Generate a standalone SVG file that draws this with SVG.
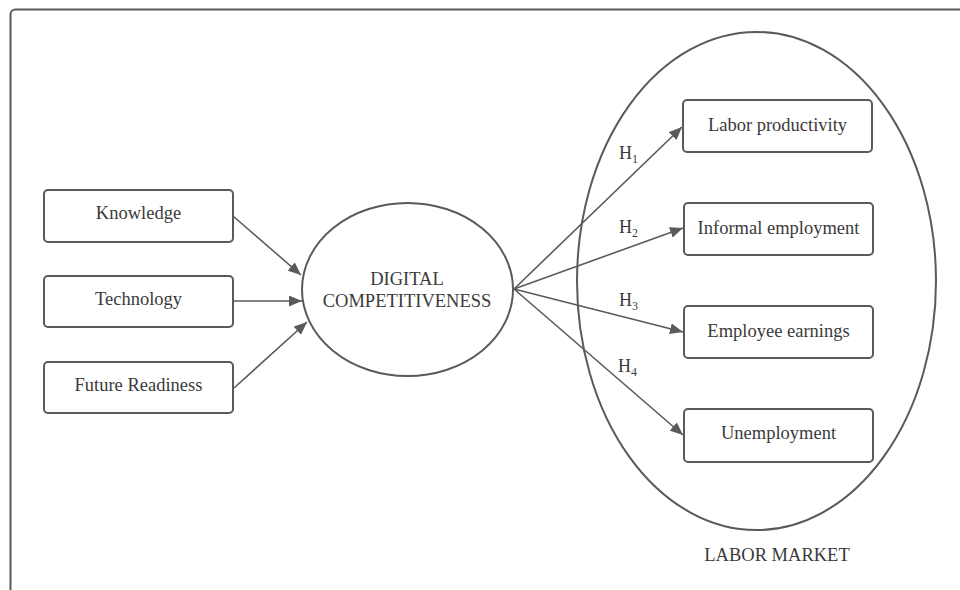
<svg xmlns="http://www.w3.org/2000/svg" width="960" height="590" viewBox="0 0 960 590">
  <style>
    .box { fill: #ffffff; stroke: #5a5a5a; stroke-width: 2; }
    .ell { fill: none; stroke: #5a5a5a; stroke-width: 2; }
    .lbl { font-family: "Liberation Serif", "Times New Roman", serif; font-size: 18.5px; fill: #3a3a3a; text-anchor: middle; }
    .hyp { font-family: "Liberation Serif", "Times New Roman", serif; font-size: 18px; fill: #3a3a3a; }
    .sub { font-size: 12px; }
    .conn { stroke: #5a5a5a; stroke-width: 1.6; fill: none; marker-end: url(#arrow); }
  </style>
  <defs>
    <marker id="arrow" markerUnits="userSpaceOnUse" markerWidth="13" markerHeight="11" refX="13" refY="5.5" orient="auto">
      <path d="M0,0 L13,5.5 L0,11 Z" fill="#5a5a5a"/>
    </marker>
  </defs>
  <rect width="960" height="590" fill="#ffffff"/>
  <rect x="10.5" y="9.5" width="1000" height="700" rx="5" fill="none" stroke="#5a5a5a" stroke-width="2"/>

  <g id="labor-market">
    <ellipse class="ell" cx="756.5" cy="281" rx="179.5" ry="249"/>
    <text class="lbl" x="777" y="561">LABOR MARKET</text>
  </g>

  <g id="connectors">
    <line class="conn" x1="233" y1="216" x2="301" y2="275"/>
    <line class="conn" x1="233" y1="301" x2="302" y2="301"/>
    <line class="conn" x1="234" y1="388" x2="307" y2="322"/>
    <line class="conn" x1="514" y1="289" x2="682" y2="127"/>
    <line class="conn" x1="514" y1="289" x2="683" y2="228"/>
    <line class="conn" x1="514" y1="289" x2="683" y2="332"/>
    <line class="conn" x1="514" y1="289" x2="683" y2="435"/>
    <text class="hyp" x="619" y="159">H<tspan class="sub" dy="4">1</tspan></text>
    <text class="hyp" x="619" y="233">H<tspan class="sub" dy="4">2</tspan></text>
    <text class="hyp" x="619" y="306">H<tspan class="sub" dy="4">3</tspan></text>
    <text class="hyp" x="618" y="372">H<tspan class="sub" dy="4">4</tspan></text>
  </g>

  <g id="knowledge">
    <rect class="box" x="44" y="190" width="189" height="52" rx="4"/>
    <text class="lbl" x="138.5" y="219">Knowledge</text>
  </g>
  <g id="technology">
    <rect class="box" x="44" y="276" width="189" height="51" rx="4"/>
    <text class="lbl" x="138.5" y="305">Technology</text>
  </g>
  <g id="future-readiness">
    <rect class="box" x="44" y="362" width="189" height="51" rx="4"/>
    <text class="lbl" x="138.5" y="391">Future Readiness</text>
  </g>

  <g id="digital-competitiveness">
    <ellipse class="ell" cx="407.5" cy="289.5" rx="105.5" ry="86.5" fill="#ffffff"/>
    <text class="lbl" x="407" y="285">DIGITAL</text>
    <text class="lbl" x="407" y="307">COMPETITIVENESS</text>
  </g>

  <g id="labor-productivity">
    <rect class="box" x="683" y="100" width="189" height="52" rx="4"/>
    <text class="lbl" x="777.5" y="131">Labor productivity</text>
  </g>
  <g id="informal-employment">
    <rect class="box" x="684" y="203" width="189" height="52" rx="4"/>
    <text class="lbl" x="778.5" y="234">Informal employment</text>
  </g>
  <g id="employee-earnings">
    <rect class="box" x="684" y="306" width="189" height="52" rx="4"/>
    <text class="lbl" x="778.5" y="337">Employee earnings</text>
  </g>
  <g id="unemployment">
    <rect class="box" x="684" y="409" width="189" height="53" rx="4"/>
    <text class="lbl" x="778.5" y="439">Unemployment</text>
  </g>
</svg>
